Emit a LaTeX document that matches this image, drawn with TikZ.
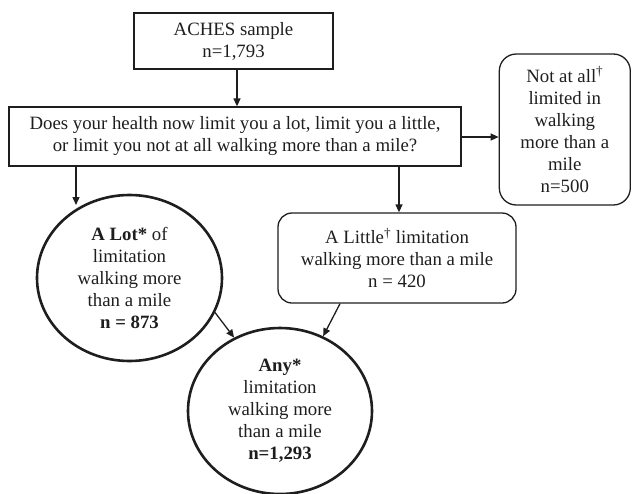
\documentclass[tikz,border=0pt]{standalone}
\usepackage{fontspec}
\setmainfont{Liberation Serif}
\usetikzlibrary{shapes.geometric,arrows.meta}
\definecolor{ink}{HTML}{1E1E1E}
\begin{document}
\begin{tikzpicture}[x=1pt,y=-1pt,
  every node/.style={font=\fontsize{18.8}{22}\selectfont, text=ink, align=center, inner sep=0pt},
  sqbox/.style={draw=ink, line width=1.3pt, rectangle},
  rbox/.style={draw=ink, line width=1.3pt, rectangle, rounded corners=14pt},
  oval/.style={draw=ink, line width=2.6pt, ellipse},
  arr/.style={draw=ink, line width=1.3pt, -{Triangle[length=8pt,width=7pt]}}]
\useasboundingbox (0,0) rectangle (632,493);

\node[sqbox, minimum width=199pt, minimum height=56pt] (top) at (233.5,41) {ACHES sample\\n=1,793};
\node[sqbox, minimum width=452pt, minimum height=59pt] (q) at (235,136.5)
  {Does your health now limit you a lot, limit you a little,\\or limit you not at all walking more than a mile?};
\node[rbox, rounded corners=17pt, minimum width=131pt, minimum height=151pt] (none) at (564.8,129.5)
  {Not at all\textsuperscript{†}\\limited in\\walking\\more than a\\mile\\n=500};
\node[oval, minimum width=185pt, minimum height=166pt] (lot) at (129.5,278)
  {\textbf{A Lot*} of\\limitation\\walking more\\than a mile\\\textbf{n = 873}};
\node[rbox, minimum width=238pt, minimum height=90pt] (little) at (397,258)
  {A Little\textsuperscript{†} limitation\\walking more than a mile\\n = 420};
\node[oval, minimum width=184pt, minimum height=166pt] (any) at (280,411)
  {\textbf{Any*}\\limitation\\walking more\\than a mile\\\textbf{n=1,293}};

\coordinate (topx) at (237,0);
\coordinate (lotin) at (76,205);
\coordinate (littlex) at (399,0);
\coordinate (littleout) at (340,0);

\draw[arr] (top.south -| topx) -- (q.north -| topx);
\draw[arr] (q.east |- 0,137) -- (none.west |- 0,137);
\draw[arr] (q.south -| lotin) -- (lotin);
\draw[arr] (q.south -| littlex) -- (little.north -| littlex);
\draw[arr] (lot.-22) -- (any.122);
\draw[arr] (little.south -| littleout) -- (any.60);
\end{tikzpicture}
\end{document}
